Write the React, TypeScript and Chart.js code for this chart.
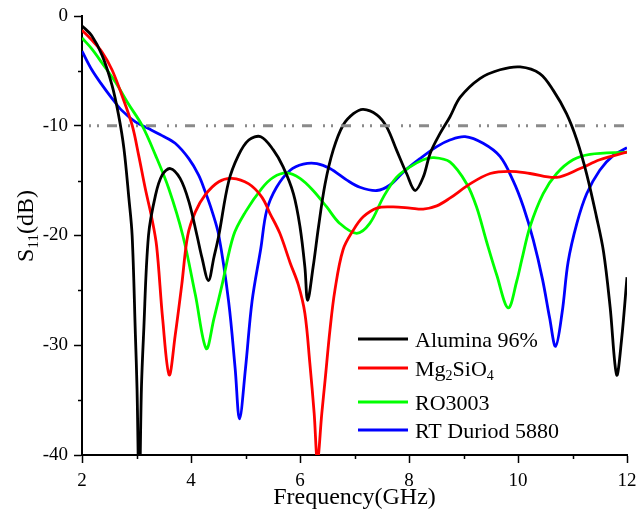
import React, { useEffect, useRef } from 'react';
import { Chart, registerables } from 'chart.js';

Chart.register(...registerables);

// ---------- data ----------
const freqAlumina = [2.0, 2.18, 2.37, 2.55, 2.67, 2.77, 2.86, 2.92, 2.98, 3.01, 3.05, 3.09, 3.13, 3.22, 3.35, 3.47, 3.62, 3.80, 3.96, 4.11, 4.2, 4.32, 4.42, 4.51, 4.69, 4.87, 5.06, 5.28, 5.51, 5.69, 5.88, 6.00, 6.09, 6.14, 6.24, 6.34, 6.46, 6.61, 6.79, 6.98, 7.16, 7.41, 7.59, 7.77, 7.96, 8.11, 8.26, 8.39, 8.57, 8.75, 8.94, 9.30, 9.67, 10.04, 10.40, 10.65, 10.89, 11.08, 11.26, 11.44, 11.57, 11.69, 11.81, 11.90, 12.0];
const s11Alumina = [-0.9, -1.8, -3.6, -6.3, -9.0, -12.1, -16.6, -20.0, -29.1, -34.0, -44.0, -34.0, -29.0, -20.0, -16.3, -14.5, -13.9, -14.8, -16.9, -20.0, -22.0, -24.1, -22.0, -20.0, -15.1, -12.7, -11.3, -11.0, -12.2, -13.75, -16.2, -19.2, -22.9, -25.9, -22.9, -19.2, -15.3, -12.2, -9.95, -8.9, -8.5, -9.0, -10.1, -12.2, -14.4, -15.9, -14.7, -12.5, -10.7, -9.2, -7.4, -5.7, -4.9, -4.64, -5.25, -6.8, -8.9, -11.3, -14.4, -18.3, -21.5, -26.5, -32.7, -29.5, -23.8];

const freqMg = [2.0, 2.18, 2.37, 2.55, 2.73, 2.92, 3.04, 3.16, 3.28, 3.37, 3.48, 3.60, 3.71, 3.83, 3.94, 4.08, 4.26, 4.51, 4.75, 5.06, 5.30, 5.45, 5.63, 5.82, 5.97, 6.09, 6.18, 6.26, 6.32, 6.40, 6.46, 6.55, 6.64, 6.79, 6.98, 7.16, 7.41, 7.71, 8.02, 8.26, 8.51, 8.75, 9.12, 9.49, 9.85, 10.22, 10.71, 11.14, 11.50, 12.0];
const s11Mg = [-1.3, -2.2, -3.3, -4.9, -7.2, -9.95, -12.7, -15.7, -18.4, -21.0, -27.6, -32.7, -29.1, -24.5, -20.0, -17.85, -16.3, -15.1, -14.8, -15.3, -16.5, -18.0, -19.8, -22.5, -24.5, -27.1, -31.6, -36.2, -40.5, -36.2, -33.2, -28.6, -25.0, -21.3, -19.5, -18.3, -17.5, -17.4, -17.5, -17.6, -17.3, -16.6, -15.3, -14.35, -14.15, -14.35, -14.7, -13.9, -13.1, -12.4];

const freqRO = [2.0, 2.18, 2.37, 2.61, 2.85, 3.10, 3.35, 3.59, 3.85, 4.08, 4.28, 4.42, 4.57, 4.78, 5.0, 5.30, 5.51, 5.76, 6.0, 6.24, 6.49, 6.73, 7.04, 7.28, 7.53, 7.77, 8.02, 8.26, 8.45, 8.75, 9.06, 9.24, 9.42, 9.61, 9.82, 9.98, 10.07, 10.22, 10.46, 10.71, 11.01, 11.32, 12.0];
const s11RO = [-2.0, -3.0, -4.3, -6.0, -8.0, -9.95, -12.7, -15.7, -20.0, -25.4, -30.3, -27.6, -24.5, -20.0, -17.85, -15.7, -14.7, -14.3, -14.8, -15.9, -17.4, -18.9, -19.8, -18.9, -16.5, -14.7, -13.75, -13.1, -12.9, -13.3, -15.3, -17.4, -20.5, -23.6, -26.6, -24.1, -22.2, -19.2, -16.2, -14.35, -13.1, -12.6, -12.4];

const freqRT = [2.0, 2.18, 2.37, 2.55, 2.73, 2.98, 3.22, 3.47, 3.71, 3.96, 4.14, 4.26, 4.39, 4.51, 4.69, 4.81, 4.89, 5.0, 5.12, 5.28, 5.39, 5.57, 5.82, 6.06, 6.31, 6.55, 6.86, 7.10, 7.41, 7.65, 7.90, 8.20, 8.51, 8.75, 9.03, 9.36, 9.67, 9.91, 10.10, 10.28, 10.45, 10.58, 10.69, 10.81, 10.92, 11.08, 11.26, 11.50, 11.75, 12.0];
const s11RT = [-3.2, -4.9, -6.3, -7.5, -8.6, -9.65, -10.25, -10.9, -11.6, -13.0, -14.5, -16.0, -17.85, -20.0, -26.0, -32.1, -36.7, -32.1, -26.0, -21.2, -17.7, -15.6, -14.05, -13.5, -13.45, -13.9, -14.95, -15.6, -15.9, -15.4, -14.2, -13.0, -11.9, -11.3, -11.0, -11.6, -12.8, -15.0, -17.4, -20.4, -24.0, -27.5, -30.1, -27.0, -22.4, -18.9, -16.2, -14.05, -12.7, -12.0];

const seriesNames = ['Alumina 96%', 'Mg₂SiO₄', 'RO3003', 'RT Duriod 5880'];
const seriesColors = ['#000000', '#ff0000', '#00ff00', '#0000ff'];

const refLevel = -10;
const refFreq = [2, 12];

const xMin = 2, xMax = 12, xStep = 2;
const yMin = -40, yMax = 0, yStep = 10;
const xMinorTicks = [3, 5, 7, 9, 11];
const yMinorTicks = [-35, -25, -15, -5];

const xTitle = 'Frequency(GHz)';
const yTitle = 'S₁₁(dB)';

// ---------- helpers ----------
const FONT = '"Liberation Serif", "Times New Roman", serif';
const SUBS = '₀₁₂₃₄₅₆₇₈₉';

type Seg = { t: string; sub: boolean };
function toSegments(text: string): Seg[] {
  const segs: Seg[] = [];
  for (const ch of text) {
    const i = SUBS.indexOf(ch);
    const sub = i >= 0;
    const c = sub ? String(i) : ch;
    const last = segs[segs.length - 1];
    if (last && last.sub === sub) last.t += c;
    else segs.push({ t: c, sub });
  }
  return segs;
}

function drawRich(ctx: CanvasRenderingContext2D, text: string, x: number, y: number, size: number, align: 'left' | 'center') {
  const segs = toSegments(text);
  const big = `${size}px ${FONT}`;
  const small = `${Math.round(size * 0.62)}px ${FONT}`;
  let w = 0;
  for (const s of segs) {
    ctx.font = s.sub ? small : big;
    w += ctx.measureText(s.t).width;
  }
  let cx = align === 'center' ? x - w / 2 : x;
  ctx.textAlign = 'left';
  ctx.textBaseline = 'alphabetic';
  for (const s of segs) {
    ctx.font = s.sub ? small : big;
    ctx.fillText(s.t, cx, s.sub ? y + size * 0.2 : y);
    cx += ctx.measureText(s.t).width;
  }
}

const decorPlugin = {
  id: 'decor',
  afterDraw(chart: any) {
    const ctx: CanvasRenderingContext2D = chart.ctx;
    const xs = chart.scales.x;
    const ys = chart.scales.y;
    const area = chart.chartArea;
    ctx.save();
    // minor ticks
    ctx.strokeStyle = '#000';
    ctx.lineWidth = 1.5;
    ctx.beginPath();
    for (const v of xMinorTicks) {
      const px = Math.round(xs.getPixelForValue(v)) + 0.5;
      ctx.moveTo(px, area.bottom);
      ctx.lineTo(px, area.bottom + 4);
    }
    for (const v of yMinorTicks) {
      const py = Math.round(ys.getPixelForValue(v)) + 0.5;
      ctx.moveTo(area.left, py);
      ctx.lineTo(area.left - 4, py);
    }
    ctx.stroke();

    // y title (rotated, with subscript)
    ctx.fillStyle = '#000';
    ctx.save();
    ctx.translate(33, 226);
    ctx.rotate(-Math.PI / 2);
    drawRich(ctx, yTitle, 0, 0, 24, 'center');
    ctx.restore();

    // legend
    const rows = [339, 368, 402, 430];
    const lx0 = 358, lx1 = 408, tx = 415;
    seriesNames.forEach((name, i) => {
      const y = rows[i];
      ctx.strokeStyle = seriesColors[i];
      ctx.lineWidth = 2.8;
      ctx.beginPath();
      ctx.moveTo(lx0, y);
      ctx.lineTo(lx1, y);
      ctx.stroke();
      ctx.fillStyle = '#000';
      drawRich(ctx, name, tx, y + 7.5, 22, 'left');
    });
    ctx.restore();
  },
};

function pts(xs: number[], ys: number[]) {
  return xs.map((x, i) => ({ x, y: ys[i] }));
}

export default function App() {
  const ref = useRef<HTMLCanvasElement | null>(null);
  useEffect(() => {
    if (!ref.current) return;
    const series = [
      pts(freqAlumina, s11Alumina),
      pts(freqMg, s11Mg),
      pts(freqRO, s11RO),
      pts(freqRT, s11RT),
    ];
    const datasets: any[] = [
      {
        label: '-10 dB',
        data: refFreq.map((x) => ({ x, y: refLevel })),
        borderColor: '#8a8a8a',
        borderWidth: 3,
        borderDash: [10, 11, 2, 6, 2, 8],
        borderDashOffset: 14,
        borderCapStyle: 'butt',
        pointRadius: 0,
        fill: false,
      },
      ...series.map((d, i) => ({
        label: seriesNames[i],
        data: d,
        borderColor: seriesColors[i],
        backgroundColor: seriesColors[i],
        borderWidth: 2.8,
        pointRadius: 0,
        tension: 0.35,
        fill: false,
      })),
    ];
    const chart = new Chart(ref.current, {
      type: 'line',
      data: { datasets },
      options: {
        animation: false,
        responsive: false,
        maintainAspectRatio: false,
        layout: { padding: { top: 16, right: 12, left: 0, bottom: 0 } },
        plugins: {
          legend: { display: false },
          tooltip: { enabled: false },
        },
        scales: {
          x: {
            type: 'linear',
            min: xMin,
            max: xMax,
            afterFit: (s: any) => { s.height = 60; s.paddingLeft = 0; s.paddingRight = 0; },
            ticks: {
              stepSize: xStep,
              color: '#000',
              font: { family: FONT, size: 19 },
              padding: 7,
              maxRotation: 0,
            },
            grid: { display: true, drawOnChartArea: false, drawTicks: true, tickLength: 8, tickWidth: 1.5, tickColor: '#000' },
            border: { display: true, color: '#000', width: 2 },
            title: {
              display: true,
              text: xTitle,
              color: '#000',
              font: { family: FONT, size: 24 },
              padding: { top: 0, bottom: 3 },
            },
          },
          y: {
            type: 'linear',
            min: yMin,
            max: yMax,
            afterFit: (s: any) => { s.width = 82; s.paddingTop = 0; s.paddingBottom = 0; },
            ticks: {
              stepSize: yStep,
              color: '#000',
              font: { family: FONT, size: 19 },
              padding: 6,
              callback: (v: any) => String(v),
            },
            grid: { display: true, drawOnChartArea: false, drawTicks: true, tickLength: 8, tickWidth: 1.5, tickColor: '#000' },
            border: { display: true, color: '#000', width: 2 },
          },
        },
      },
      plugins: [decorPlugin],
    } as any);
    return () => chart.destroy();
  }, []);
  return (
    <div style={{ position: 'absolute', left: 0, top: 0, width: 639, height: 515, background: '#fff' }}>
      <canvas ref={ref} width={639} height={515} style={{ display: 'block' }} />
    </div>
  );
}
